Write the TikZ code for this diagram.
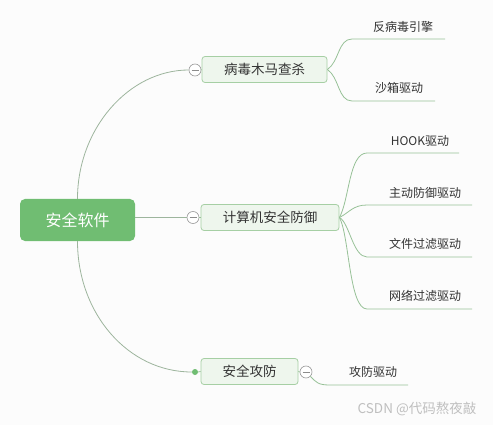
\documentclass[tikz,border=0pt]{standalone}
\usepackage{fontspec}
\setmainfont{Noto Sans CJK SC}
\definecolor{rootg}{HTML}{70BD72}
\definecolor{branchf}{HTML}{EEF6ED}
\definecolor{branchd}{HTML}{A6CFA4}
\definecolor{linec}{HTML}{97C197}
\definecolor{mainline}{HTML}{9DB59D}
\definecolor{txt}{HTML}{333333}
\definecolor{bgc}{HTML}{FCFCFC}
\begin{document}
\begin{tikzpicture}[x=1pt,y=-1pt,
  root/.style={rounded corners=5pt, fill=rootg, text=white, minimum width=115pt, minimum height=42pt, font=\fontsize{16}{18}\selectfont, inner sep=0pt},
  branch/.style={rounded corners=3pt, fill=branchf, draw=branchd, line width=0.8pt, minimum height=26pt, font=\fontsize{13.5}{16}\selectfont, text=txt, inner sep=0pt},
  leaf/.style={font=\fontsize{12}{14}\selectfont, text=txt, inner sep=0pt},
  conn/.style={draw=linec, line width=0.8pt},
  mconn/.style={draw=mainline, line width=0.8pt},
  toggle/.style={circle, draw=gray!80, fill=white, minimum size=12pt, inner sep=0pt, line width=0.6pt,
    path picture={\draw[gray!90, line width=0.6pt] ([xshift=-3.5pt]path picture bounding box.center) -- ([xshift=3.5pt]path picture bounding box.center);}},
  dotnode/.style={circle, fill=rootg, minimum size=6pt, inner sep=0pt},
  wmark/.style={font=\fontsize{13.5}{15}\selectfont, text=gray!50, inner sep=0pt}
]
\fill[bgc] (0,0) rectangle (493,425);
\useasboundingbox (0,0) rectangle (493,425);

% nodes
\node[root] (r) at (77.5,220) {安全软件};
\node[branch, minimum width=125pt] (b1) at (264.5,69.5) {病毒木马查杀};
\node[branch, minimum width=138pt] (b2) at (270,217.5) {计算机安全防御};
\node[branch, minimum width=97pt] (b3) at (249.5,371.5) {安全攻防};

% leaf labels
\node[leaf] (l1) at (403,27) {反病毒引擎};
\node[leaf] (l2) at (399,88) {沙箱驱动};
\node[leaf] (l3) at (420,141) {HOOK驱动};
\node[leaf] (l4) at (425,193) {主动防御驱动};
\node[leaf] (l5) at (425,244) {文件过滤驱动};
\node[leaf] (l6) at (425,296) {网络过滤驱动};
\node[leaf] (l7) at (373,372) {攻防驱动};

% leaf line coordinates
\coordinate (s1a) at (352,39);  \coordinate (s1b) at (445,39);
\coordinate (s2a) at (352,101); \coordinate (s2b) at (435,101);
\coordinate (s3a) at (367,153); \coordinate (s3b) at (459,153);
\coordinate (s4a) at (367,205); \coordinate (s4b) at (472,205);
\coordinate (s5a) at (367,257); \coordinate (s5b) at (472,257);
\coordinate (s6a) at (367,309); \coordinate (s6b) at (472,309);
\coordinate (s7a) at (330,385); \coordinate (s7b) at (408,385);

% toggles
\node[toggle] (t1) at (195,70) {};
\node[toggle] (t2) at (193,217.5) {};
\node[toggle] (t3) at (306,372) {};
\node[dotnode] (d3) at (195,372) {};

% main connectors
\draw[mconn] (r.north) .. controls +(0,-70) and +(-60,0) .. (t1.west);
\draw[mconn] (t2.west -| r.east) -- (t2.west);
\draw[mconn] (r.south) .. controls +(0,72) and +(-64,0) .. (d3.west);

\draw[conn] (t1.east) -- (b1.west);
\draw[conn] (t2.east) -- (b2.west);
\draw[conn] (d3.east) -- (b3.west);
\draw[conn] (b3.east) -- (t3.west);

% sub connectors
\draw[conn] (b1.east) .. controls +(12,-8) and +(-14,0) .. (s1a) -- (s1b);
\draw[conn] (b1.east) .. controls +(12,8) and +(-14,0) .. (s2a) -- (s2b);
\draw[conn] (b2.east) .. controls +(10,-18) and +(-18,0) .. (s3a) -- (s3b);
\draw[conn] (b2.east) .. controls +(10,-5) and +(-14,0) .. (s4a) -- (s4b);
\draw[conn] (b2.east) .. controls +(10,5) and +(-14,0) .. (s5a) -- (s5b);
\draw[conn] (b2.east) .. controls +(10,18) and +(-18,0) .. (s6a) -- (s6b);
\draw[conn] (t3.south east) .. controls +(6,6) and +(-12,0) .. (s7a) -- (s7b);

% watermark
\node[wmark] (wm) at (417,409) {CSDN @代码熬夜敲};
\end{tikzpicture}
\end{document}
